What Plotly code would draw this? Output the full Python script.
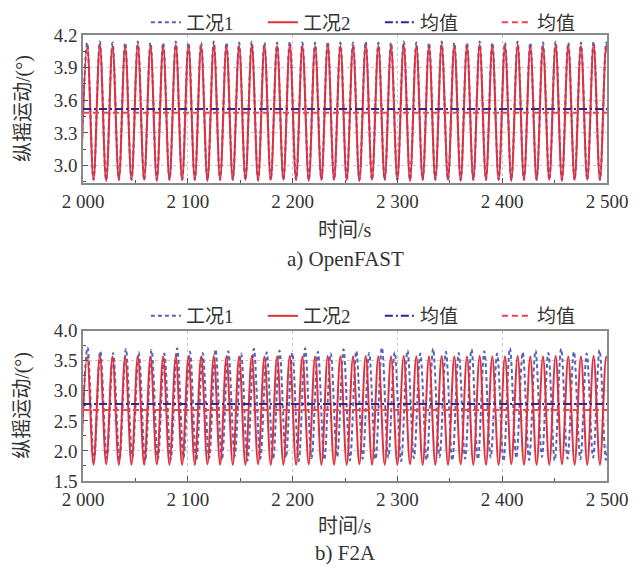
import plotly.graph_objects as go

# ---------------- data ----------------
# extremum times (s) of 工况2 (peaks / troughs), shared by both panels' 工况2 and top 工况1
t_red = [1997.96, 2004.00, 2010.04, 2016.08, 2022.12, 2028.16, 2034.20, 2040.24, 2046.28, 2052.32,
         2058.36, 2064.40, 2070.44, 2076.48, 2082.52, 2088.56, 2094.60, 2100.64, 2106.68, 2112.72,
         2118.76, 2124.80, 2130.84, 2136.88, 2142.92, 2148.96, 2155.00, 2161.04, 2167.08, 2173.12,
         2179.16, 2185.20, 2191.24, 2197.28, 2203.32, 2209.36, 2215.40, 2221.44, 2227.48, 2233.52,
         2239.56, 2245.60, 2251.64, 2257.68, 2263.72, 2269.76, 2275.80, 2281.84, 2287.88, 2293.92,
         2299.96, 2306.00, 2312.04, 2318.08, 2324.12, 2330.16, 2336.20, 2342.24, 2348.28, 2354.32,
         2360.36, 2366.40, 2372.44, 2378.48, 2384.52, 2390.56, 2396.60, 2402.64, 2408.68, 2414.72,
         2420.76, 2426.80, 2432.84, 2438.88, 2444.92, 2450.96, 2457.00, 2463.04, 2469.08, 2475.12,
         2481.16, 2487.20, 2493.24, 2499.28, 2505.32]

# a) OpenFAST
openfast_case2 = [2.87, 4.10, 2.87, 4.11, 2.86, 4.10, 2.87, 4.10, 2.87, 4.11,
                  2.87, 4.10, 2.86, 4.10, 2.87, 4.11, 2.87, 4.10, 2.87, 4.10,
                  2.86, 4.11, 2.87, 4.10, 2.87, 4.10, 2.87, 4.11, 2.86, 4.10,
                  2.87, 4.10, 2.87, 4.11, 2.87, 4.10, 2.86, 4.10, 2.87, 4.11,
                  2.87, 4.10, 2.87, 4.10, 2.86, 4.11, 2.87, 4.10, 2.87, 4.10,
                  2.87, 4.11, 2.86, 4.10, 2.87, 4.10, 2.87, 4.11, 2.87, 4.10,
                  2.86, 4.10, 2.87, 4.11, 2.87, 4.10, 2.87, 4.10, 2.86, 4.11,
                  2.87, 4.10, 2.87, 4.10, 2.87, 4.11, 2.86, 4.10, 2.87, 4.10,
                  2.87, 4.11, 2.87, 4.10, 2.87]
openfast_case1 = [2.87, 4.13, 2.87, 4.14, 2.87, 4.13, 2.87, 4.13, 2.87, 4.14,
                  2.87, 4.13, 2.87, 4.13, 2.87, 4.14, 2.87, 4.13, 2.87, 4.13,
                  2.87, 4.14, 2.87, 4.13, 2.87, 4.13, 2.87, 4.14, 2.87, 4.13,
                  2.87, 4.13, 2.87, 4.14, 2.87, 4.13, 2.87, 4.13, 2.87, 4.14,
                  2.87, 4.13, 2.87, 4.13, 2.87, 4.14, 2.87, 4.13, 2.87, 4.13,
                  2.87, 4.14, 2.87, 4.13, 2.87, 4.13, 2.87, 4.14, 2.87, 4.13,
                  2.87, 4.13, 2.87, 4.14, 2.87, 4.13, 2.87, 4.13, 2.87, 4.14,
                  2.87, 4.13, 2.87, 4.13, 2.87, 4.14, 2.87, 4.13, 2.87, 4.13,
                  2.87, 4.14, 2.87, 4.13, 2.87]
openfast_mean1 = 3.52
openfast_mean2 = 3.485

# b) F2A
f2a_case2 = [1.77, 3.57, 1.77, 3.58, 1.78, 3.57, 1.77, 3.57, 1.77, 3.58,
             1.77, 3.57, 1.78, 3.57, 1.77, 3.58, 1.77, 3.57, 1.77, 3.57,
             1.78, 3.58, 1.77, 3.57, 1.77, 3.57, 1.77, 3.58, 1.78, 3.57,
             1.77, 3.57, 1.77, 3.58, 1.77, 3.57, 1.78, 3.57, 1.77, 3.58,
             1.77, 3.57, 1.77, 3.57, 1.78, 3.58, 1.77, 3.57, 1.77, 3.57,
             1.77, 3.58, 1.78, 3.57, 1.77, 3.57, 1.77, 3.58, 1.77, 3.57,
             1.78, 3.57, 1.77, 3.58, 1.77, 3.57, 1.77, 3.57, 1.78, 3.58,
             1.77, 3.57, 1.77, 3.57, 1.77, 3.58, 1.78, 3.57, 1.77, 3.57,
             1.77, 3.58, 1.77, 3.57, 1.77]
t_f2a_case1 = [1998.19, 2004.30, 2010.41, 2016.51, 2022.62, 2028.73, 2034.84, 2040.94, 2047.05, 2053.16,
               2059.26, 2065.37, 2071.48, 2077.58, 2083.69, 2089.80, 2095.91, 2102.01, 2108.12, 2114.23,
               2120.33, 2126.44, 2132.55, 2138.65, 2144.76, 2150.87, 2156.98, 2163.08, 2169.19, 2175.30,
               2181.40, 2187.51, 2193.62, 2199.72, 2205.83, 2211.94, 2218.05, 2224.15, 2230.26, 2236.37,
               2242.47, 2248.58, 2254.69, 2260.79, 2266.90, 2273.01, 2279.12, 2285.22, 2291.33, 2297.44,
               2303.54, 2309.65, 2315.76, 2321.86, 2327.97, 2334.08, 2340.19, 2346.29, 2352.40, 2358.51,
               2364.61, 2370.72, 2376.83, 2382.93, 2389.04, 2395.15, 2401.26, 2407.36, 2413.47, 2419.58,
               2425.68, 2431.79, 2437.90, 2444.00, 2450.11, 2456.22, 2462.33, 2468.43, 2474.54, 2480.65,
               2486.75, 2492.86, 2498.97, 2505.07]
f2a_case1 = [1.86, 3.72, 1.84, 3.66, 1.88, 3.63, 1.85, 3.70, 1.90, 3.64,
             1.83, 3.68, 1.87, 3.62, 1.86, 3.71, 1.89, 3.65, 1.84, 3.63,
             1.88, 3.69, 1.85, 3.66, 1.91, 3.62, 1.84, 3.70, 1.87, 3.64,
             1.86, 3.67, 1.89, 3.63, 1.83, 3.71, 1.88, 3.65, 1.85, 3.62,
             1.90, 3.69, 1.84, 3.66, 1.87, 3.63, 1.86, 3.72, 1.89, 3.64,
             1.83, 3.67, 1.88, 3.62, 1.85, 3.70, 1.90, 3.65, 1.84, 3.63,
             1.87, 3.69, 1.86, 3.66, 1.89, 3.62, 1.83, 3.71, 1.88, 3.64,
             1.85, 3.67, 1.90, 3.63, 1.84, 3.70, 1.87, 3.65, 1.86, 3.62,
             1.89, 3.68, 1.85, 3.66]
f2a_mean1 = 2.78
f2a_mean2 = 2.68

mean_span = [2000, 2500]
x_ticks = [2000, 2100, 2200, 2300, 2400, 2500]
x_ticktext = ["2 000", "2 100", "2 200", "2 300", "2 400", "2 500"]
y1_ticks = [3.0, 3.3, 3.6, 3.9, 4.2]
y2_ticks = [1.5, 2.0, 2.5, 3.0, 3.5, 4.0]
names = ["工况1", "工况2", "均值", "均值"]
captions = ["a) OpenFAST", "b) F2A"]

# ---------------- styles ----------------
C_BLUE = "#5566b8"
C_RED = "#e0303e"
C_NAVY = "#262c8c"
C_RED2 = "#e8454f"
FONT = "Liberation Serif, Noto Sans CJK SC"

fig = go.Figure()


def add_panel(xa, ya, legend, t1, y1, t2, y2, m1, m2):
    fig.add_trace(go.Scatter(x=t1, y=y1, mode="lines", name=names[0], legend=legend,
                             xaxis=xa, yaxis=ya,
                             line=dict(color=C_BLUE, width=2, dash="4px,3px", shape="spline", smoothing=1.0)))
    fig.add_trace(go.Scatter(x=t2, y=y2, mode="lines", name=names[1], legend=legend,
                             xaxis=xa, yaxis=ya,
                             line=dict(color=C_RED, width=2, shape="spline", smoothing=1.0)))
    fig.add_trace(go.Scatter(x=mean_span, y=[m1, m1], mode="lines", name=names[2], legend=legend,
                             xaxis=xa, yaxis=ya,
                             line=dict(color=C_NAVY, width=2, dash="8px,3px,2px,3px")))
    fig.add_trace(go.Scatter(x=mean_span, y=[m2, m2], mode="lines", name=names[3], legend=legend,
                             xaxis=xa, yaxis=ya,
                             line=dict(color=C_RED2, width=2, dash="6px,4px")))


add_panel("x", "y", "legend", t_red, openfast_case1, t_red, openfast_case2, openfast_mean1, openfast_mean2)
add_panel("x2", "y2", "legend2", t_f2a_case1, f2a_case1, t_red, f2a_case2, f2a_mean1, f2a_mean2)

axis_common = dict(showline=True, mirror=True, linecolor="#8a8a8a", linewidth=1.5,
                   ticks="inside", ticklen=5, tickcolor="#555", showgrid=True,
                   gridcolor="#c8c8c8", griddash="dot", gridwidth=1, zeroline=False,
                   tickfont=dict(family=FONT, size=19, color="#333"))
xaxis_common = dict(axis_common, range=[2000, 2500], tickvals=x_ticks, ticktext=x_ticktext,
                    minor=dict(ticks="inside", ticklen=3, dtick=50, tick0=2000, tickcolor="#555", showgrid=False))

legend_common = dict(orientation="h", xanchor="left", yanchor="middle",
                     entrywidth=72, entrywidthmode="pixels", bgcolor="rgba(0,0,0,0)",
                     font=dict(family=FONT, size=19, color="#333"), itemwidth=30,
                     tracegroupgap=0)

fig.update_layout(
    width=640, height=569,
    margin=dict(l=83, r=33, t=35, b=88, autoexpand=False),
    paper_bgcolor="white", plot_bgcolor="white",
    xaxis=dict(xaxis_common, domain=[0, 1], anchor="y"),
    yaxis=dict(axis_common, domain=[0.668, 1], range=[2.84, 4.2], tickvals=y1_ticks,
               ticktext=["3.0", "3.3", "3.6", "3.9", "4.2"], anchor="x",
               minor=dict(ticks="inside", ticklen=3, dtick=0.15, tick0=3.0, tickcolor="#555", showgrid=False)),
    xaxis2=dict(xaxis_common, domain=[0, 1], anchor="y2"),
    yaxis2=dict(axis_common, domain=[0, 0.337], range=[1.5, 4.0], tickvals=y2_ticks,
                ticktext=["1.5", "2.0", "2.5", "3.0", "3.5", "4.0"], anchor="x2",
                minor=dict(ticks="inside", ticklen=3, dtick=0.25, tick0=1.5, tickcolor="#555", showgrid=False)),
    legend=dict(legend_common, x=0.12, y=1.028),
    legend2=dict(legend_common, x=0.12, y=0.37),
    showlegend=True,
)

ann_font = dict(family=FONT, size=20, color="#333")
for ymid, ytitle in [(0.834, 0.5628), (0.1685, -0.1009)]:
    fig.add_annotation(text="纵摇运动/(°)", xref="paper", yref="paper", x=0, y=ymid,
                       xanchor="center", yanchor="middle", xshift=-60, textangle=-90,
                       showarrow=False, font=ann_font)
    fig.add_annotation(text="时间/s", xref="paper", yref="paper", x=0.5, y=ytitle,
                       xanchor="center", yanchor="middle", showarrow=False, font=ann_font)
for ycap, cap in [(0.4978, captions[0]), (-0.1614, captions[1])]:
    fig.add_annotation(text=cap, xref="paper", yref="paper", x=0.5, y=ycap,
                       xanchor="center", yanchor="middle", showarrow=False,
                       font=dict(family=FONT, size=21, color="#333"))

fig.write_html("out.html", config={"displayModeBar": False},
               post_script="document.body.style.margin='0';document.body.style.overflow='hidden';")
